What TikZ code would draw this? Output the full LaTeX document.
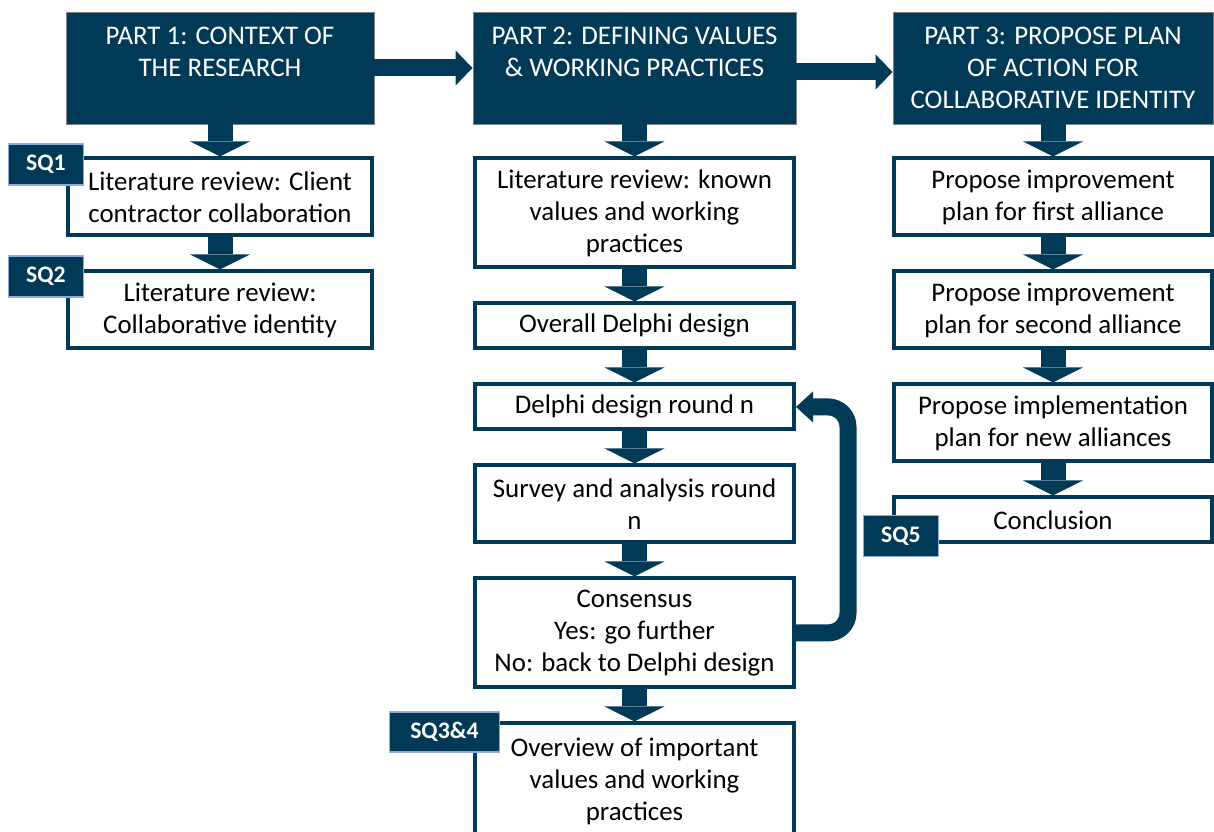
\documentclass[tikz,border=0pt]{standalone}
\usepackage{fontspec}
\setmainfont{Carlito}
\usetikzlibrary{arrows.meta, positioning}
\definecolor{navy}{RGB}{1,58,87}
\definecolor{sqline}{RGB}{143,170,220}

\begin{document}
\begin{tikzpicture}[
    node distance=0.64cm,
    % Styles
    block/.style={rectangle, align=center, inner sep=0pt, font=\fontsize{15.3}{18.2}\selectfont},
    part/.style={block, fill=navy, draw=gray, line width=0.5pt, text=white, minimum height=2.24cm},
    box/.style={block, fill=white, draw=navy, line width=0.08cm},
    sq/.style={rectangle, fill=navy, draw=sqline, line width=0.7pt, text=white, inner sep=0pt,
               minimum width=1.5cm, minimum height=0.82cm, font=\bfseries\fontsize{13.5}{15}\selectfont},
    down/.style={draw=navy, line width=0.5cm, -{Triangle[width=1.2cm, length=0.3cm, line width=0pt]}},
    side/.style={draw=navy, line width=0.34cm, -{Triangle[width=0.7cm, length=0.34cm, line width=0pt]}},
    back/.style={draw=navy, line width=0.34cm, rounded corners=0.4cm,
                 -{Triangle[width=0.62cm, length=0.34cm, line width=0pt]}}
]
    \useasboundingbox (0,0) rectangle (24.28,-16.64);

    % --- PARTS (top row) ---
    % text sits at the top, so the two-line titles get an empty third line
    \node[part, minimum width=6.16cm] (P1) at (4.4,-1.36) {PART 1: CONTEXT OF\\THE RESEARCH\\\phantom{X}};
    \node[part, minimum width=6.46cm] (P2) at (12.69,-1.36) {PART 2: DEFINING VALUES\\\& WORKING PRACTICES\\\phantom{X}};
    \node[part, minimum width=6.4cm] (P3) at (21.06,-1.36) {PART 3: PROPOSE PLAN\\OF ACTION FOR\\COLLABORATIVE IDENTITY};

    \draw[side] (P1) -- (P2);
    \draw[side] ([yshift=-0.08cm]P2.east) -- ([yshift=-0.08cm]P3.west);

    % --- PART 1 ---
    \node[box, below=of P1, minimum width=6.08cm, minimum height=1.54cm] (S11) {Literature review: Client\\contractor collaboration};
    \node[box, below=of S11, minimum width=6.08cm, minimum height=1.54cm] (S12) {Literature review:\\Collaborative identity};

    \draw[down] (P1) -- (S11);
    \draw[down] (S11) -- (S12);

    % --- PART 2 ---
    \node[box, below=of P2, minimum width=6.38cm, minimum height=2.18cm] (S21) {Literature review: known\\values and working\\practices};
    \node[box, below=of S21, minimum width=6.38cm, minimum height=0.9cm] (S22) {Overall Delphi design};
    \node[box, below=of S22, minimum width=6.38cm, minimum height=0.9cm] (S23) {Delphi design round n};
    \node[box, below=of S23, minimum width=6.38cm, minimum height=1.54cm] (S24) {Survey and analysis round\\n};
    \node[box, below=of S24, minimum width=6.38cm, minimum height=2.18cm] (S25) {Consensus\\Yes: go further\\No: back to Delphi design};
    % runs off the bottom of the page
    \node[box, below=of S25, minimum width=6.38cm, minimum height=2.3cm] (S26) {Overview of important\\values and working\\practices};

    \draw[down] (P2) -- (S21);
    \draw[down] (S21) -- (S22);
    \draw[down] (S22) -- (S23);
    \draw[down] (S23) -- (S24);
    \draw[down] (S24) -- (S25);
    \draw[down] (S25) -- (S26);

    % No consensus: back to the Delphi design
    \draw[back] (S25.east) -- ++(1.04cm,0) |- (S23.east);

    % --- PART 3 ---
    \node[box, below=of P3, minimum width=6.36cm, minimum height=1.54cm] (S31) {Propose improvement\\plan for first alliance};
    \node[box, below=of S31, minimum width=6.36cm, minimum height=1.54cm] (S32) {Propose improvement\\plan for second alliance};
    \node[box, below=of S32, minimum width=6.36cm, minimum height=1.54cm] (S33) {Propose implementation\\plan for new alliances};
    \node[box, below=of S33, minimum width=6.36cm, minimum height=0.9cm] (S34) {Conclusion};

    \draw[down] (P3) -- (S31);
    \draw[down] (S31) -- (S32);
    \draw[down] (S32) -- (S33);
    \draw[down] (S33) -- (S34);

    % --- SUB-QUESTIONS ---
    \node[sq, anchor=north east] (SQ1) at ([xshift=0.36cm, yshift=0.26cm]S11.north west) {SQ1};
    \node[sq, anchor=north east] (SQ2) at ([xshift=0.36cm, yshift=0.28cm]S12.north west) {SQ2};
    \node[sq, anchor=north east, minimum width=2.2cm, minimum height=0.8cm] (SQ34) at ([xshift=0.54cm, yshift=0.2cm]S26.north west) {SQ3\&4};
    \node[sq, anchor=south east] (SQ5) at ([xshift=0.94cm, yshift=-0.26cm]S34.south west) {SQ5};

\end{tikzpicture}
\end{document}
